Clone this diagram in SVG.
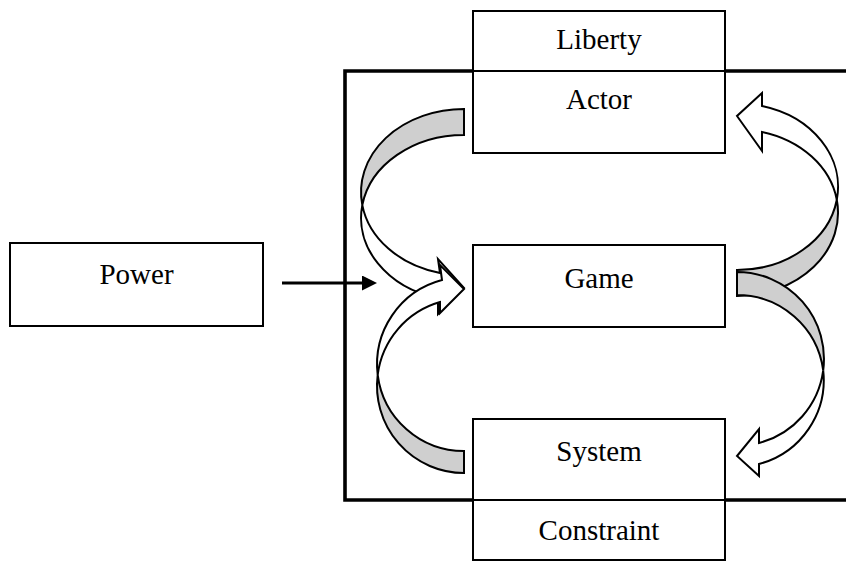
<svg xmlns="http://www.w3.org/2000/svg" width="846" height="561" viewBox="0 0 846 561">
  <style>
    .box { fill: #ffffff; stroke: #000000; stroke-width: 2; }
    .label { font-family: "Liberation Serif", "Times New Roman", serif; font-size: 29px; fill: #000000; text-anchor: middle; }
    .frame { fill: none; stroke: #000000; stroke-width: 3.6; }
    .back { fill: #cfcfcf; stroke: #000000; stroke-width: 2; stroke-linejoin: miter; }
    .front { fill: #ffffff; stroke: #000000; stroke-width: 2; stroke-linejoin: miter; }
    .link { stroke: #000000; stroke-width: 3; fill: none; }
  </style>
  <defs>
    <marker id="head" markerUnits="userSpaceOnUse" markerWidth="15" markerHeight="15" refX="8" refY="7.5" orient="auto">
      <path d="M0,0 L15,7.5 L0,15 Z" fill="#000000"/>
    </marker>
  </defs>

  <rect width="846" height="561" fill="#ffffff"/>

  <!-- outer system frame (open to the right) -->
  <path class="frame" d="M846,71 H345 V500 H846"/>

  <g id="node-power">
    <rect class="box" x="10" y="243" width="253" height="83"/>
    <text class="label" x="136.5" y="284">Power</text>
  </g>

  <g id="node-liberty">
    <rect class="box" x="473" y="11" width="252" height="60"/>
    <text class="label" x="599" y="49">Liberty</text>
  </g>

  <g id="node-actor">
    <rect class="box" x="473" y="71" width="252" height="82"/>
    <text class="label" x="599" y="109">Actor</text>
  </g>

  <g id="node-game">
    <rect class="box" x="473" y="245" width="252" height="82"/>
    <text class="label" x="599" y="288">Game</text>
  </g>

  <g id="node-system">
    <rect class="box" x="473" y="419" width="252" height="81"/>
    <text class="label" x="599" y="461">System</text>
  </g>

  <g id="node-constraint">
    <rect class="box" x="473" y="500" width="252" height="60"/>
    <text class="label" x="599" y="540">Constraint</text>
  </g>

  <g id="connectors">
    <!-- Power into the frame -->
    <line class="link" x1="282" y1="283" x2="370" y2="283" marker-end="url(#head)"/>

    <!-- Actor -> Game (curved, left side) -->
    <g id="curve-actor-game">
      <path class="back" d="M464,109 A103,83.1 0 0 0 362.3,205.1 A103,83.1 0 0 1 464,135 Z"/>
      <path class="front" d="M362.3,205.1 A103,83.1 0 0 0 440,273 L438,259 L464,288 L438,314 L438,298.3 A103,83.1 0 0 1 362.3,205.1 Z"/>
    </g>

    <!-- System -> Game (curved, left side) -->
    <g id="curve-system-game">
      <path class="back" d="M464,473 A87,87.2 0 0 1 377.7,374.8 A87,87.2 0 0 0 464,451 Z"/>
      <path class="front" d="M377.7,374.8 A87,87.2 0 0 1 442,280 L440,265 L464,289 L440,313 L440,302 A87,87.2 0 0 0 377.7,374.8 Z"/>
    </g>

    <!-- Game -> Actor (curved, right side) -->
    <g id="curve-game-actor">
      <path class="back" d="M737,296 A101,83.3 0 0 0 836.8,199.7 A101,83.3 0 0 1 737,270 Z"/>
      <path class="front" d="M836.8,199.7 A101,83.3 0 0 0 762,106 L762,93 L737,116 L762,151 L762,132 A101,83.3 0 0 1 836.8,199.7 Z"/>
    </g>

    <!-- Game -> System (curved, right side) -->
    <g id="curve-game-system">
      <path class="back" d="M737,272 A87,86.9 0 0 1 823.2,370.4 A87,86.9 0 0 0 737,295 Z"/>
      <path class="front" d="M823.2,370.4 A87,86.9 0 0 1 759,443 L759,429 L737,456 L759,476 L759,464 A87,86.9 0 0 0 823.2,370.4 Z"/>
    </g>
  </g>
</svg>
